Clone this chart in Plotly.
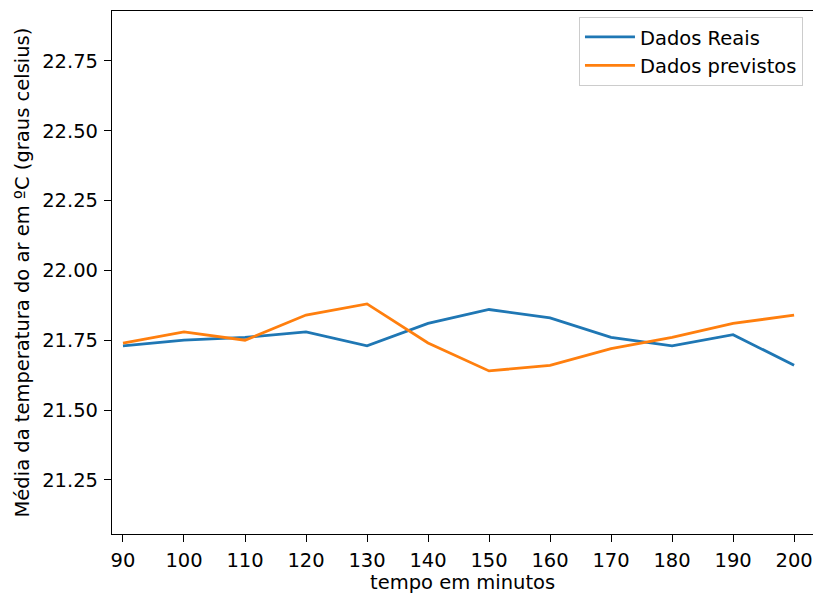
import plotly.graph_objects as go

tempo = [90, 100, 110, 120, 130, 140, 150, 160, 170, 180, 190, 200]
dados_reais = [21.73, 21.75, 21.76, 21.78, 21.73, 21.81, 21.86, 21.83, 21.76, 21.73, 21.77, 21.66]
dados_previstos = [21.74, 21.78, 21.75, 21.84, 21.88, 21.74, 21.64, 21.66, 21.72, 21.76, 21.81, 21.84]
y_ticks = [21.25, 21.50, 21.75, 22.00, 22.25, 22.50, 22.75]
x_ticks = [90, 100, 110, 120, 130, 140, 150, 160, 170, 180, 190, 200]

FONT = "DejaVu Sans"
FS = 19.5

fig = go.Figure()
fig.add_trace(go.Scatter(x=tempo, y=dados_reais, mode="lines", name="Dados Reais",
                         line=dict(color="#1f77b4", width=2.8)))
fig.add_trace(go.Scatter(x=tempo, y=dados_previstos, mode="lines", name="Dados previstos",
                         line=dict(color="#ff7f0e", width=2.8)))

fig.update_layout(
    width=813, height=594,
    margin=dict(l=112, r=0, t=11, b=60, autoexpand=False),
    paper_bgcolor="white", plot_bgcolor="white",
    font=dict(family=FONT, size=FS, color="black"),
    showlegend=True,
    legend=dict(x=0.9857, y=0.989, xanchor="right", yanchor="top",
                bgcolor="rgba(255,255,255,0.8)", bordercolor="#cccccc", borderwidth=1,
                font=dict(family=FONT, size=FS, color="black"),
                tracegroupgap=0, itemwidth=50),
    xaxis=dict(range=[88.2, 203.1], tickmode="array", tickvals=x_ticks,
               ticktext=[str(v) for v in x_ticks], automargin=False,
               showgrid=False, zeroline=False, showline=True, linecolor="black", linewidth=1.2,
               mirror=True, ticks="outside", ticklen=7, tickwidth=1.2, tickcolor="black",
               ticklabelstandoff=1),
    yaxis=dict(range=[21.056, 22.929], tickmode="array", tickvals=y_ticks,
               ticktext=[f"{v:.2f}" for v in y_ticks], automargin=False,
               showgrid=False, zeroline=False, showline=True, linecolor="black", linewidth=1.2,
               mirror=False, ticks="outside", ticklen=7, tickwidth=1.2, tickcolor="black",
               ticklabelstandoff=2),
    annotations=[
        dict(text="tempo em minutos", xref="paper", yref="paper", x=0.5, y=-0.0935,
             xanchor="center", yanchor="middle", showarrow=False,
             font=dict(family=FONT, size=FS, color="black")),
        dict(text="Média da temperatura do ar em ºC (graus celsius)", xref="paper", yref="paper",
             x=-0.127, y=0.5, xanchor="center", yanchor="middle", textangle=-90, showarrow=False,
             font=dict(family=FONT, size=FS, color="black")),
    ],
)

fig.write_html("out.html", config={"displayModeBar": False},
               post_script="document.body.style.margin='0';document.body.style.overflow='hidden';")
